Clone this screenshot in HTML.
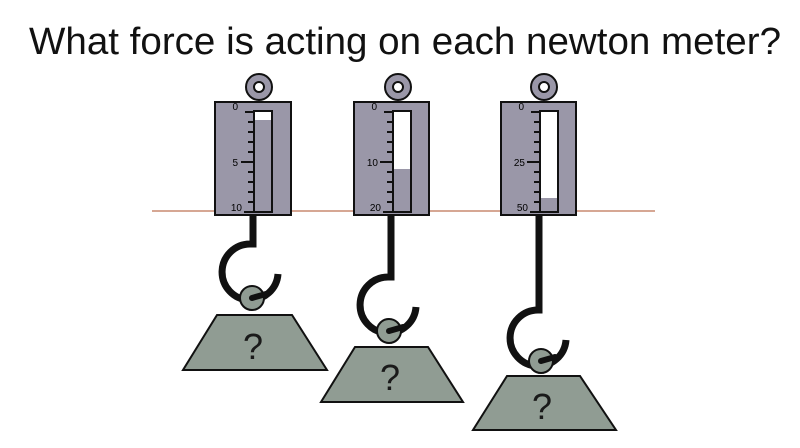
<!DOCTYPE html>
<html><head><meta charset="utf-8"><style>body{margin:0;background:#fff}svg{display:block}</style></head><body>
<svg width="800" height="448" viewBox="0 0 800 448" xmlns="http://www.w3.org/2000/svg" font-family="Liberation Sans, sans-serif">
<text x="405" y="54" font-size="38" text-anchor="middle" textLength="752" lengthAdjust="spacingAndGlyphs" fill="#111">What force is acting on each newton meter?</text>
<line x1="152" y1="211" x2="655" y2="211" stroke="#c98a70" stroke-width="1.5"/>
<g>
<circle cx="259" cy="87" r="13" fill="#9a97a8" stroke="#111" stroke-width="2"/><circle cx="259" cy="87" r="5" fill="#fff" stroke="#111" stroke-width="2"/>
<rect x="215" y="102" width="76" height="113" fill="#9a97a8" stroke="#111" stroke-width="2"/>
<rect x="254" y="111" width="18" height="101" fill="#fff" stroke="#111" stroke-width="2"/>
<rect x="255" y="120" width="16" height="91" fill="#9a97a8"/>
<path d="M245 112h9M248 122h6M248 132h6M248 142h6M248 152h6M241 162h13M248 172h6M248 182h6M248 192h6M248 202h6M244 212h10" stroke="#111" stroke-width="2"/>
<text x="238" y="110" font-size="10" text-anchor="end">0</text><text x="238" y="166" font-size="10" text-anchor="end">5</text><text x="242" y="211" font-size="10" text-anchor="end">10</text>
</g>
<g>
<circle cx="398" cy="87" r="13" fill="#9a97a8" stroke="#111" stroke-width="2"/><circle cx="398" cy="87" r="5" fill="#fff" stroke="#111" stroke-width="2"/>
<rect x="354" y="102" width="75" height="113" fill="#9a97a8" stroke="#111" stroke-width="2"/>
<rect x="393" y="111" width="18" height="101" fill="#fff" stroke="#111" stroke-width="2"/>
<rect x="394" y="169" width="16" height="42" fill="#9a97a8"/>
<path d="M384 112h9M387 122h6M387 132h6M387 142h6M387 152h6M380 162h13M387 172h6M387 182h6M387 192h6M387 202h6M383 212h10" stroke="#111" stroke-width="2"/>
<text x="377" y="110" font-size="10" text-anchor="end">0</text><text x="378" y="166" font-size="10" text-anchor="end">10</text><text x="381" y="211" font-size="10" text-anchor="end">20</text>
</g>
<g>
<circle cx="544" cy="87" r="13" fill="#9a97a8" stroke="#111" stroke-width="2"/><circle cx="544" cy="87" r="5" fill="#fff" stroke="#111" stroke-width="2"/>
<rect x="501" y="102" width="75" height="113" fill="#9a97a8" stroke="#111" stroke-width="2"/>
<rect x="540" y="111" width="18" height="101" fill="#fff" stroke="#111" stroke-width="2"/>
<rect x="541" y="198" width="16" height="13" fill="#9a97a8"/>
<path d="M531 112h9M534 122h6M534 132h6M534 142h6M534 152h6M527 162h13M534 172h6M534 182h6M534 192h6M534 202h6M530 212h10" stroke="#111" stroke-width="2"/>
<text x="524" y="110" font-size="10" text-anchor="end">0</text><text x="525" y="166" font-size="10" text-anchor="end">25</text><text x="528" y="211" font-size="10" text-anchor="end">50</text>
</g>
<g fill="none" stroke="#111" stroke-width="7">
<path d="M253 216V244H250A28 28 0 1 0 278 274"/>
<path d="M391 216V277H388A28 28 0 1 0 416 307"/>
<path d="M539 216V310H538A28 28 0 1 0 566 340"/>
</g>
<g fill="#909c93" stroke="#111" stroke-width="2">
<path d="M217 315H292L327 370H183Z"/>
<path d="M355 347H428L463 402H321Z"/>
<path d="M507 376H580L616 430H473Z"/>
<circle cx="252" cy="298" r="12"/><circle cx="389" cy="331" r="12"/><circle cx="541" cy="361" r="12"/>
</g>
<g stroke="#111" stroke-width="6" stroke-linecap="round">
<path d="M252 298L266 294"/><path d="M389 331L403 327"/><path d="M541 361L555 357"/>
</g>
<g font-size="36" text-anchor="middle" fill="#1a1a1a">
<text x="253" y="359">?</text><text x="390" y="390">?</text><text x="542" y="419">?</text>
</g>
</svg>
</body></html>
